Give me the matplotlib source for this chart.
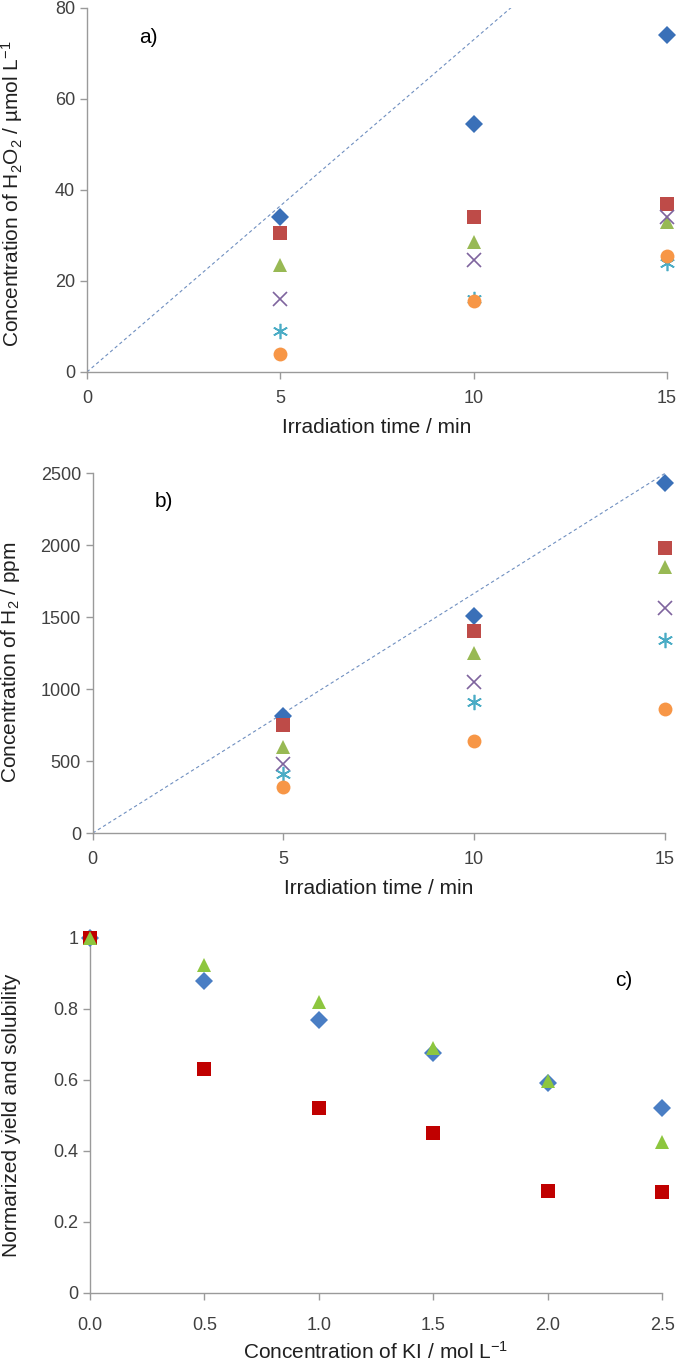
import numpy as np
import matplotlib.pyplot as plt

# panel a / b: irradiation time series
time = [5, 10, 15]
h2o2_diamond = [34, 54.5, 74]
h2o2_square = [30.5, 34, 37]
h2o2_triangle = [23.5, 28.5, 33]
h2o2_cross = [16, 24.5, 34]
h2o2_star = [9, 16, 24]
h2o2_circle = [4, 15.5, 25.5]
h2o2_trend_slope = 7.3

h2_diamond = [810, 1510, 2430]
h2_square = [750, 1400, 1980]
h2_triangle = [600, 1250, 1850]
h2_cross = [480, 1050, 1560]
h2_star = [410, 910, 1340]
h2_circle = [320, 640, 860]
h2_trend_slope = 166.5

# panel c: KI concentration
ki_conc = [0.0, 0.5, 1.0, 1.5, 2.0, 2.5]
yield_diamond = [1.0, 0.878, 0.768, 0.675, 0.592, 0.521]
yield_triangle = [1.0, 0.925, 0.82, 0.69, 0.598, 0.425]
solubility_square = [1.0, 0.63, 0.522, 0.451, 0.286, 0.283]

TICKFONT = ['Liberation Sans', 'DejaVu Sans']
LABELFONT = ['Liberation Sans', 'DejaVu Sans']
plt.rcParams['font.family'] = LABELFONT
plt.rcParams['mathtext.fontset'] = 'custom'
plt.rcParams['mathtext.rm'] = 'Liberation Sans'
plt.rcParams['mathtext.it'] = 'Liberation Sans'

styles = [
    ('D', '#3A70B8', 9),
    ('s', '#BE4B48', 10),
    ('^', '#98B954', 10),
    ('x', '#7E649E', 10),
    ((6, 2, 0), '#4AACC5', 11),
    ('o', '#F79646', 10),
]


def style_axis(ax, xticks, yticks, xfmt, yfmt, xpad=4):
    for s in ['top', 'right']:
        ax.spines[s].set_visible(False)
    for s in ['left', 'bottom']:
        ax.spines[s].set_color('#9a9a9a')
        ax.spines[s].set_linewidth(1.0)
    ax.set_xticks(xticks)
    ax.set_yticks(yticks)
    ax.set_xticklabels([xfmt(v) for v in xticks])
    ax.set_yticklabels([yfmt(v) for v in yticks])
    ax.tick_params(colors='#9a9a9a', labelcolor='#404040', length=5, width=1.0,
                   labelsize=13)
    ax.tick_params(axis='x', pad=xpad)
    for lab in ax.get_xticklabels() + ax.get_yticklabels():
        lab.set_family(TICKFONT)


def time_panel(ax, series, slope, ymax, yticks):
    for (m, c, ms), ys in zip(styles, series):
        mew = 1.2 if m in ('x', (6, 2, 0)) else 0
        ax.plot(time, ys, linestyle='none', marker=m, color=c, ms=ms,
                mew=mew, clip_on=False, zorder=3)
    xs = np.array([0, 15])
    ax.plot(xs, slope * xs, '--', color='#6f8fc0', lw=0.8, dashes=(3, 2.5))
    ax.set_xlim(0, 15)
    ax.set_ylim(0, ymax)
    style_axis(ax, [0, 5, 10, 15], yticks, lambda v: str(v), lambda v: str(v), xpad=8)
    ax.set_xlabel('Irradiation time / min', fontsize=15, color='#202020', labelpad=8)


fig = plt.figure(figsize=(6.77, 13.63), dpi=100)

ax1 = fig.add_axes([0.1285, 0.7271, 0.8567, 0.2671])
time_panel(ax1, [h2o2_diamond, h2o2_square, h2o2_triangle, h2o2_cross,
                 h2o2_star, h2o2_circle], h2o2_trend_slope, 80, [0, 20, 40, 60, 80])
ax1.set_ylabel('Concentration of H$_2$O$_2$ / \u00b5mol L$^{-1}$', fontsize=15,
               color='#202020')
ax1.yaxis.set_label_coords(-0.107, 0.49)
ax1.text(0.09, 0.918, 'a)', transform=ax1.transAxes, fontsize=15, va='center')

ax2 = fig.add_axes([0.137, 0.3888, 0.845, 0.2641])
time_panel(ax2, [h2_diamond, h2_square, h2_triangle, h2_cross,
                 h2_star, h2_circle], h2_trend_slope, 2500,
           [0, 500, 1000, 1500, 2000, 2500])
ax2.set_ylabel('Concentration of H$_2$ / ppm', fontsize=15, color='#202020')
ax2.yaxis.set_label_coords(-0.124, 0.475)
ax2.text(0.108, 0.92, 'b)', transform=ax2.transAxes, fontsize=15, va='center')

ax3 = fig.add_axes([0.133, 0.0514, 0.845, 0.2605])
ax3.plot(ki_conc, yield_diamond, linestyle='none', marker='D', color='#4A7EC4',
         ms=9, mew=0, clip_on=False, zorder=3)
ax3.plot(ki_conc, yield_triangle, linestyle='none', marker='^', color='#8DC63F',
         ms=10, mew=0, clip_on=False, zorder=4)
ax3.plot(ki_conc, solubility_square, linestyle='none', marker='s', color='#C00000',
         ms=10, mew=0, clip_on=False, zorder=3)
ax3.set_xlim(0, 2.5)
ax3.set_ylim(0, 1)
style_axis(ax3, [0.0, 0.5, 1.0, 1.5, 2.0, 2.5], [0, 0.2, 0.4, 0.6, 0.8, 1.0],
           lambda v: f'{v:.1f}', lambda v: f'{v:g}', xpad=12)
ax3.set_xlabel('Concentration of KI / mol L$^{-1}$', fontsize=15, color='#202020',
               labelpad=5)
ax3.set_ylabel('Normarized yield and solubility', fontsize=15, color='#202020')
ax3.yaxis.set_label_coords(-0.12, 0.5)
ax3.text(0.918, 0.88, 'c)', transform=ax3.transAxes, fontsize=15, va='center')

fig.savefig('out.png', dpi=100)
